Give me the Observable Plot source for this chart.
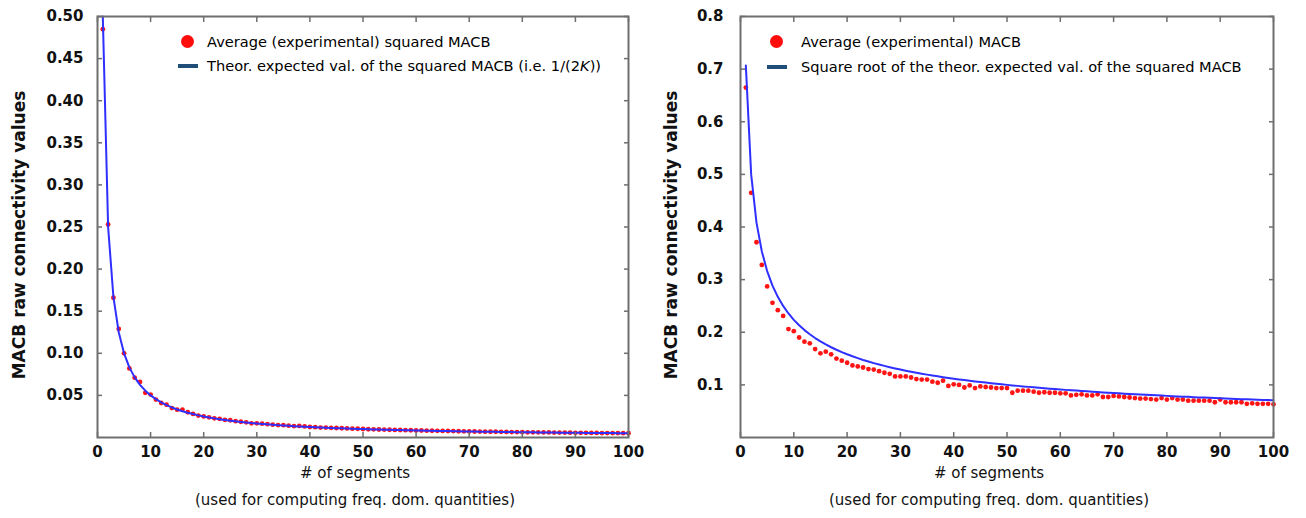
<!DOCTYPE html>
<html>
<head>
<meta charset="utf-8">
<script src="https://cdn.jsdelivr.net/npm/d3@7"></script>
<script src="https://cdn.jsdelivr.net/npm/@observablehq/plot@0.6"></script>
<style>
  body { margin: 0; background: #fff; width: 1306px; height: 518px; overflow: hidden; font-family: "DejaVu Sans", sans-serif; }
  #wrap { position: relative; width: 1306px; height: 518px; }
  .panel { position: absolute; top: 0; }
  .leg { position: absolute; font-size: 14.6px; line-height: 18px; color: #000; white-space: nowrap; }
  .dot { position: absolute; width: 13px; height: 13px; border-radius: 50%; background: #ff0d0d; }
  .sw { position: absolute; width: 20px; height: 4px; background: #1f4e79; }
</style>
</head>
<body>
<div id="wrap">
  <div class="panel" id="left" style="left:0px"></div>
  <div class="panel" id="right" style="left:653px"></div>

  <div class="dot" style="left:181px; top:35px"></div>
  <div class="leg" style="left:207px; top:33px">Average (experimental) squared MACB</div>
  <div class="sw" style="left:178px; top:64px"></div>
  <div class="leg" style="left:207px; top:57px">Theor. expected val. of the squared MACB (i.e. 1/(2<i>K</i>))</div>

  <div class="dot" style="left:770px; top:35px"></div>
  <div class="leg" style="left:801px; top:33px">Average (experimental) MACB</div>
  <div class="sw" style="left:767px; top:65px"></div>
  <div class="leg" style="left:801px; top:58px">Square root of the theor. expected val. of the squared MACB</div>
</div>
<script>
// number of segments K
const segments = [1,2,3,4,5,6,7,8,9,10,11,12,13,14,15,16,17,18,19,20,
  21,22,23,24,25,26,27,28,29,30,31,32,33,34,35,36,37,38,39,40,
  41,42,43,44,45,46,47,48,49,50,51,52,53,54,55,56,57,58,59,60,
  61,62,63,64,65,66,67,68,69,70,71,72,73,74,75,76,77,78,79,80,
  81,82,83,84,85,86,87,88,89,90,91,92,93,94,95,96,97,98,99,100];

// Left panel: average (experimental) squared MACB
const expSquared = [0.485,0.253,0.166,0.129,0.100,0.082,0.071,0.066,0.053,0.051,
  0.045,0.041,0.039,0.035,0.033,0.033,0.030,0.028,0.026,0.025,
  0.024,0.0228,0.0222,0.021,0.0205,0.0194,0.0187,0.018,0.0168,0.0168,
  0.0164,0.0158,0.0152,0.0148,0.0146,0.0140,0.0136,0.0137,0.0131,0.0125,
  0.0123,0.0118,0.0118,0.0115,0.0113,0.0110,0.0108,0.0105,0.0104,0.0101,
  0.0098,0.0097,0.0095,0.0094,0.0092,0.0090,0.0089,0.0087,0.0086,0.0084,
  0.0083,0.0081,0.0080,0.0079,0.0078,0.0077,0.0076,0.0074,0.0073,0.0072,
  0.0071,0.0070,0.0069,0.0068,0.0068,0.0067,0.0066,0.0065,0.0064,0.0063,
  0.0062,0.0062,0.0061,0.0060,0.0060,0.0059,0.0058,0.0058,0.0057,0.0056,
  0.0056,0.0055,0.0054,0.0054,0.0053,0.0053,0.0052,0.0052,0.0051,0.0051];

// Left panel: theoretical expected value of the squared MACB, 1/(2K)
const theoSquared = [0.5,0.25,0.1667,0.125,0.1,0.0833,0.0714,0.0625,0.0556,0.05,
  0.0455,0.0417,0.0385,0.0357,0.0333,0.03125,0.0294,0.0278,0.0263,0.025,
  0.0238,0.0227,0.0217,0.0208,0.02,0.0192,0.0185,0.0179,0.0172,0.0167,
  0.0161,0.0156,0.0152,0.0147,0.0143,0.0139,0.0135,0.0132,0.0128,0.0125,
  0.0122,0.0119,0.0116,0.0114,0.0111,0.0109,0.0106,0.0104,0.0102,0.01,
  0.0098,0.0096,0.0094,0.0093,0.0091,0.0089,0.0088,0.0086,0.0085,0.0083,
  0.0082,0.0081,0.0079,0.0078,0.0077,0.0076,0.0075,0.0074,0.0072,0.0071,
  0.0070,0.0069,0.0068,0.0068,0.0067,0.0066,0.0065,0.0064,0.0063,0.00625,
  0.0062,0.0061,0.0060,0.0060,0.0059,0.0058,0.0057,0.0057,0.0056,0.0056,
  0.0055,0.0054,0.0054,0.0053,0.0053,0.0052,0.0052,0.0051,0.0051,0.005];

// Right panel: average (experimental) MACB
const expMACB = [0.665,0.465,0.371,0.328,0.287,0.256,0.242,0.231,0.206,0.202,
  0.190,0.182,0.179,0.168,0.160,0.163,0.158,0.150,0.146,0.142,
  0.137,0.135,0.133,0.130,0.129,0.126,0.123,0.121,0.116,0.116,
  0.116,0.114,0.111,0.110,0.110,0.106,0.104,0.108,0.098,0.101,
  0.100,0.095,0.099,0.094,0.097,0.096,0.095,0.094,0.094,0.094,
  0.085,0.089,0.089,0.089,0.087,0.085,0.086,0.085,0.085,0.084,
  0.084,0.080,0.081,0.082,0.080,0.080,0.082,0.077,0.077,0.079,
  0.078,0.077,0.076,0.075,0.074,0.074,0.073,0.072,0.075,0.072,
  0.075,0.072,0.072,0.070,0.070,0.070,0.070,0.070,0.067,0.072,
  0.067,0.067,0.067,0.067,0.064,0.065,0.064,0.064,0.064,0.063];

// Right panel: square root of the theoretical expected value of the squared MACB
const theoMACB = [0.7071,0.5,0.4082,0.3536,0.3162,0.2887,0.2673,0.25,0.2357,0.2236,
  0.2132,0.2041,0.1961,0.1890,0.1826,0.1768,0.1715,0.1667,0.1622,0.1581,
  0.1543,0.1508,0.1474,0.1443,0.1414,0.1387,0.1361,0.1336,0.1313,0.1291,
  0.1270,0.125,0.1231,0.1213,0.1195,0.1179,0.1162,0.1147,0.1132,0.1118,
  0.1104,0.1091,0.1078,0.1066,0.1054,0.1043,0.1031,0.1021,0.1010,0.1,
  0.0990,0.0981,0.0971,0.0962,0.0953,0.0945,0.0937,0.0928,0.0921,0.0913,
  0.0905,0.0898,0.0891,0.0884,0.0877,0.0870,0.0864,0.0857,0.0851,0.0845,
  0.0839,0.0833,0.0828,0.0822,0.0816,0.0811,0.0806,0.0801,0.0796,0.0791,
  0.0786,0.0781,0.0776,0.0772,0.0767,0.0762,0.0758,0.0754,0.0750,0.0745,
  0.0741,0.0737,0.0733,0.0729,0.0725,0.0722,0.0718,0.0714,0.0711,0.0707];

const xTicks = [0,10,20,30,40,50,60,70,80,90,100];
const yTicksLeft = [0.05,0.10,0.15,0.20,0.25,0.30,0.35,0.40,0.45,0.50];
const yTicksRight = [0.1,0.2,0.3,0.4,0.5,0.6,0.7,0.8];
const yTitle = "MACB raw connectivity values";
const xTitle = "# of segments";
const xSubtitle = "(used for computing freq. dom. quantities)";

const frameColor = "#6e6e6e";

function panel({exp, theo, yDomain, yTicks, yFormat, marginLeft, marginRight, tickPad, yTitleDx, titleDx}) {
  const data = segments.map((k, i) => ({k, exp: exp[i], theo: theo[i]}));
  return Plot.plot({
    width: 653,
    height: 518,
    marginLeft, marginRight,
    marginTop: 16,
    marginBottom: 81,
    x: {domain: [0, 100]},
    y: {domain: yDomain},
    style: {fontFamily: "DejaVu Sans, sans-serif", fontSize: "15px", color: "#111", background: "#fff", overflow: "visible"},
    marks: [
      Plot.dot(data, {x: "k", y: "exp", r: 2.4, fill: "#ff1414"}),
      Plot.line(data, {x: "k", y: "theo", stroke: "#2f2fff", strokeWidth: 2}),
      Plot.axisY(yTicks, {anchor: "left", tickSize: 0, tickPadding: tickPad, tickFormat: yFormat, fontWeight: "bold", label: null}),
      Plot.axisY(yTicks, {anchor: "left", tickSize: 5, dx: 5, fill: "none", stroke: frameColor, strokeWidth: 1.5}),
      Plot.axisY(yTicks, {anchor: "right", tickSize: 5, dx: -5, fill: "none", stroke: frameColor, strokeWidth: 1.5}),
      Plot.axisX(xTicks, {anchor: "bottom", tickSize: 0, tickPadding: 9, fontWeight: "bold", label: null}),
      Plot.axisX(xTicks, {anchor: "bottom", tickSize: 5, dy: -5, fill: "none", stroke: frameColor, strokeWidth: 1.5}),
      Plot.axisX(xTicks, {anchor: "top", tickSize: 5, dy: 5, fill: "none", stroke: frameColor, strokeWidth: 1.5}),
      Plot.frame({stroke: frameColor, strokeWidth: 2}),
      Plot.text([yTitle], {frameAnchor: "left", rotate: -90, dx: yTitleDx, dy: 8, textAnchor: "middle", lineAnchor: "middle", fontWeight: "bold", fontSize: 17}),
      Plot.text([xTitle], {frameAnchor: "bottom", dx: titleDx, dy: 36, textAnchor: "middle", lineAnchor: "middle", fontSize: 15}),
      Plot.text([xSubtitle], {frameAnchor: "bottom", dx: titleDx, dy: 63, textAnchor: "middle", lineAnchor: "middle", fontSize: 15})
    ]
  });
}

document.getElementById("left").append(panel({
  exp: expSquared, theo: theoSquared, yDomain: [0, 0.5], yTicks: yTicksLeft,
  yFormat: d3.format(".2f"), marginLeft: 97, marginRight: 25, tickPad: 14, yTitleDx: -78, titleDx: -8
}));
document.getElementById("right").append(panel({
  exp: expMACB, theo: theoMACB, yDomain: [0, 0.8], yTicks: yTicksRight,
  yFormat: d3.format(".1f"), marginLeft: 87, marginRight: 33, tickPad: 17, yTitleDx: -69, titleDx: -18
}));
</script>
</body>
</html>
